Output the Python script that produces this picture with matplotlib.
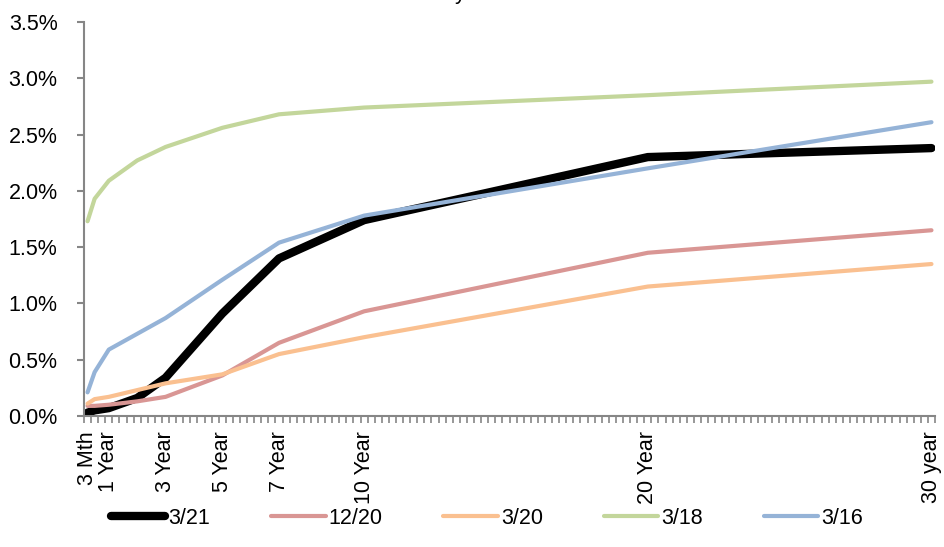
import matplotlib
matplotlib.use("Agg")
import matplotlib.pyplot as plt
import numpy as np

maturities = [0.25, 0.5, 1, 2, 3, 5, 7, 10, 20, 30]
tick_pos = [0.25, 1, 3, 5, 7, 10, 20, 30]
tick_labels = ["3 Mth", "1 Year", "3 Year", "5 Year", "7 Year", "10 Year", "20 Year", "30 year"]

y_3_21 = [0.03, 0.05, 0.07, 0.16, 0.34, 0.91, 1.40, 1.74, 2.30, 2.38]
y_12_20 = [0.09, 0.09, 0.10, 0.13, 0.17, 0.36, 0.65, 0.93, 1.45, 1.65]
y_3_20 = [0.11, 0.15, 0.17, 0.23, 0.29, 0.37, 0.55, 0.70, 1.15, 1.35]
y_3_18 = [1.73, 1.93, 2.09, 2.27, 2.39, 2.56, 2.68, 2.74, 2.85, 2.97]
y_3_16 = [0.21, 0.39, 0.59, 0.73, 0.87, 1.21, 1.54, 1.78, 2.20, 2.61]

series = [
    ("3/21", y_3_21, "#000000", 6.0),
    ("12/20", y_12_20, "#D99694", 3.0),
    ("3/20", y_3_20, "#FAC090", 3.0),
    ("3/18", y_3_18, "#C3D69B", 3.0),
    ("3/16", y_3_16, "#95B3D7", 3.0),
]

plt.rcParams['font.family'] = ['Liberation Sans', 'DejaVu Sans']
FS = 15.5

fig = plt.figure(figsize=(9.44, 5.47), dpi=100)
ax = fig.add_axes([84/944, 1-416/547, (935-84)/944, (416-22)/547])

for name, vals, col, lw in series:
    ax.plot(maturities, vals, color=col, lw=lw, label=name,
            solid_capstyle='round', solid_joinstyle='round')

ax.set_xlim(0.125, 30.125)
ax.set_ylim(0, 3.5)
ax.set_yticks(np.arange(0, 3.51, 0.5))
ax.set_yticklabels([f"{v:.1f}%" for v in np.arange(0, 3.51, 0.5)], fontsize=FS)

ax.set_xticks(tick_pos)
ax.set_xticklabels(tick_labels, rotation=90, fontsize=FS, va='top', ha='center')
ax.set_xticks(np.arange(0.125, 30.2, 0.25), minor=True)

gray = "#868686"
for s in ["top", "right"]:
    ax.spines[s].set_visible(False)
for s in ["left", "bottom"]:
    ax.spines[s].set_color(gray)
    ax.spines[s].set_linewidth(1.5)

ax.tick_params(axis='y', which='major', direction='out', length=5, width=1.5,
               color=gray, pad=14)
ax.tick_params(axis='x', which='major', length=0, pad=11)
ax.tick_params(axis='x', which='minor', direction='out', length=5, width=1.2,
               color=gray)

leg = fig.legend(loc='center', bbox_to_anchor=(487/944, 1-518/547), ncol=5,
                 frameon=False, fontsize=FS, handlelength=2.55, handletextpad=0.15,
                 columnspacing=2.8)

fig.text(460/944, 1 + 1/547, "y", fontsize=FS, ha='center', va='baseline')

fig.savefig("out.png", dpi=100)
